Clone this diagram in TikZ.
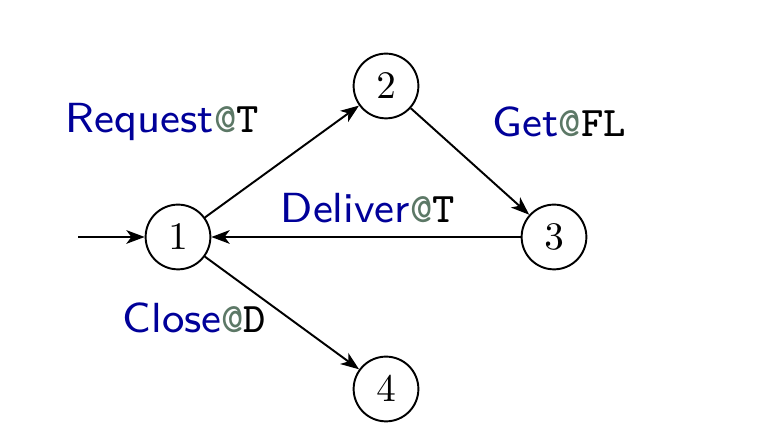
\documentclass[tikz,border=0pt]{standalone}
\usetikzlibrary{arrows.meta}
\definecolor{lblblue}{rgb}{0.0,0.0,0.6}
\definecolor{atcol}{rgb}{0.36,0.47,0.40}
\tikzset{
  state/.style={circle,draw,line width=0.5pt,minimum size=16.6pt,inner sep=0pt},
  edge/.style={line width=0.5pt,-{Stealth[length=4.7pt,width=3.5pt,inset=1.3pt]}},
  lbl/.style={anchor=base west,inner sep=0pt,text=lblblue}
}
\newcommand{\at}{\textcolor{atcol}{\texttt{@}}}
\newcommand{\lbltext}[1]{\scalebox{1.35}{\fontsize{8}{10}\selectfont\sffamily #1}}
\begin{document}
\begin{tikzpicture}[x=0.2564pt,y=-0.2564pt]
\useasboundingbox (0,0) rectangle (773,446);
\node[state] (n1) at (178,237) {$1$};
\node[state] (n2) at (386,86) {$2$};
\node[state] (n3) at (554,237) {$3$};
\node[state] (n4) at (386,389) {$4$};
\coordinate (s) at (78,237);
\draw[edge] (s) -- (n1);
\draw[edge] (n1) -- (n2);
\draw[edge] (n2) -- (n3);
\draw[edge] (n3) -- (n1);
\draw[edge] (n1) -- (n4);
\node[lbl] (l1) at (65,132.5) {\lbltext{Request\at\texttt{\textcolor{black}{T}}}};
\node[lbl] (l2) at (492,136.7) {\lbltext{Get\at\texttt{\textcolor{black}{FL}}}};
\node[lbl] (l3) at (280,222.3) {\lbltext{Deliver\at\texttt{\textcolor{black}{T}}}};
\node[lbl] (l4) at (122,332.3) {\lbltext{Close\at\texttt{\textcolor{black}{D}}}};
\end{tikzpicture}
\end{document}
